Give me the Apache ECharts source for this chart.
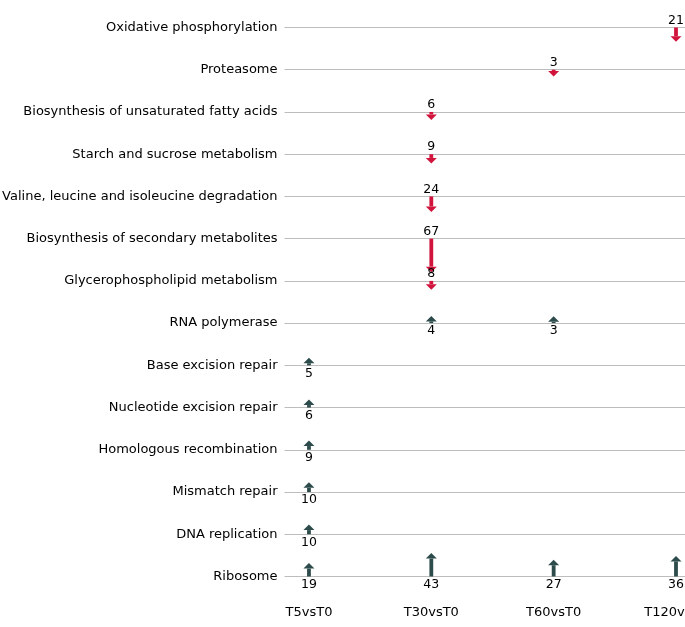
<!DOCTYPE html>
<html>
<head>
<meta charset="utf-8">
<script src="https://cdn.jsdelivr.net/npm/echarts@6/dist/echarts.min.js"></script>
<style>
html,body{margin:0;padding:0;background:#fff;}
#chart{width:685px;height:627px;}
</style>
</head>
<body>
<div id="chart"></div>
<script>
// Pathways (top to bottom)
const pathways = [
  'Oxidative phosphorylation',
  'Proteasome',
  'Biosynthesis of unsaturated fatty acids',
  'Starch and sucrose metabolism',
  'Valine, leucine and isoleucine degradation',
  'Biosynthesis of secondary metabolites',
  'Glycerophospholipid metabolism',
  'RNA polymerase',
  'Base excision repair',
  'Nucleotide excision repair',
  'Homologous recombination',
  'Mismatch repair',
  'DNA replication',
  'Ribosome'
];
// Comparisons (x axis)
const comparisons = ['T5vsT0', 'T30vsT0', 'T60vsT0', 'T120vsT0'];

// [comparison index, pathway index, gene count]
const downRegulated = [
  [3, 0, 21],
  [2, 1, 3],
  [1, 2, 6],
  [1, 3, 9],
  [1, 4, 24],
  [1, 5, 67],
  [1, 6, 8]
];
const upRegulated = [
  [1, 7, 4],
  [2, 7, 3],
  [0, 8, 5],
  [0, 9, 6],
  [0, 10, 9],
  [0, 11, 10],
  [0, 12, 10],
  [0, 13, 19],
  [1, 13, 43],
  [2, 13, 27],
  [3, 13, 36]
];

const UP_COLOR = '#2d4b4b';
const DOWN_COLOR = '#d0143c';
const ARROW_SCALE = 0.0099; // row units per gene
const HEAD_LEN = 5.5;
const HEAD_W = 11;
const SHAFT_W = 3.8;

function makeRender(dir, color) {
  // dir: +1 => arrow points down (towards larger row index), -1 => up
  return function (params, api) {
    const cx = api.value(0), cy = api.value(1), n = api.value(2);
    const base = api.coord([cx, cy]);
    const end = api.coord([cx, cy + dir * n * ARROW_SCALE]);
    const s = Math.sign(end[1] - base[1]) || dir;
    const x = base[0];
    const y0 = base[1];
    const y1 = end[1];
    const yTip = y1 + s * HEAD_LEN;
    const children = [];
    if (Math.abs(y1 - y0) > 0.2) {
      children.push({
        type: 'rect',
        shape: { x: x - SHAFT_W / 2, y: Math.min(y0, y1), width: SHAFT_W, height: Math.abs(y1 - y0) },
        style: { fill: color }
      });
    }
    children.push({
      type: 'polygon',
      shape: { points: [[x - HEAD_W / 2, y1], [x + HEAD_W / 2, y1], [x, yTip]] },
      style: { fill: color }
    });
    children.push({
      type: 'text',
      style: {
        text: String(n),
        x: x,
        y: s > 0 ? y0 - 0.5 : y0 + 1.5,
        align: 'center',
        verticalAlign: s > 0 ? 'bottom' : 'top',
        fill: '#000000',
        font: '12.5px "DejaVu Sans", sans-serif'
      }
    });
    return { type: 'group', children: children };
  };
}

const chart = echarts.init(document.getElementById('chart'), null, { renderer: 'canvas' });
chart.setOption({
  animation: false,
  backgroundColor: '#ffffff',
  grid: {
    left: 284.5,
    top: 27.5,
    width: 428.2,
    bottom: 50.5,
    containLabel: false,
    outerBoundsMode: 'none'
  },
  xAxis: {
    type: 'value',
    min: -0.2,
    max: 3.3,
    splitLine: { show: false },
    axisLine: { show: false },
    axisTick: { show: false },
    axisLabel: {
      customValues: [0, 1, 2, 3],
      formatter: function (v) { return comparisons[Math.round(v)] || ''; },
      margin: 30,
      color: '#000000',
      fontSize: 13,
      fontFamily: 'DejaVu Sans'
    }
  },
  yAxis: {
    type: 'value',
    inverse: true,
    min: 0,
    max: pathways.length - 1,
    interval: 1,
    axisLine: { show: false },
    axisTick: { show: false },
    splitLine: { show: true, lineStyle: { color: '#bdbdbd', width: 1 } },
    axisLabel: {
      formatter: function (v) { return pathways[Math.round(v)] || ''; },
      margin: 7,
      color: '#000000',
      fontSize: 13,
      fontFamily: 'DejaVu Sans'
    }
  },
  series: [
    {
      type: 'custom',
      name: 'down',
      clip: false,
      renderItem: makeRender(1, DOWN_COLOR),
      data: downRegulated
    },
    {
      type: 'custom',
      name: 'up',
      clip: false,
      renderItem: makeRender(-1, UP_COLOR),
      data: upRegulated
    }
  ]
});
</script>
</body>
</html>
